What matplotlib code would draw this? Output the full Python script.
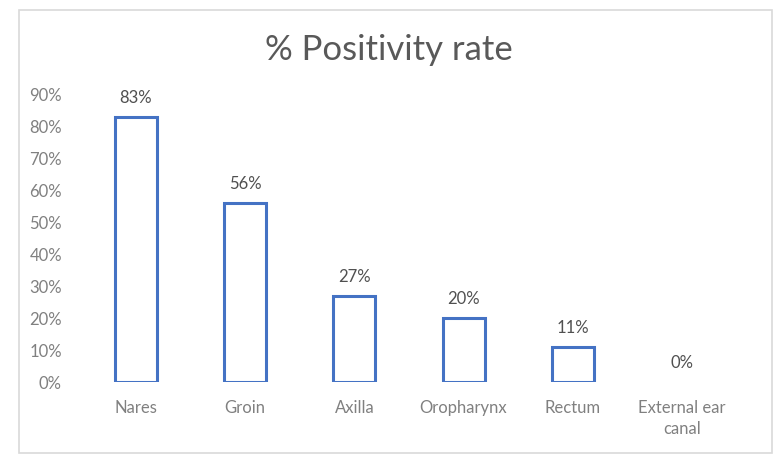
import numpy as np
import matplotlib.pyplot as plt
from matplotlib.patches import Rectangle

sites = ["Nares", "Groin", "Axilla", "Oropharynx", "Rectum", "External ear\ncanal"]
rates = [0.83, 0.56, 0.27, 0.20, 0.11, 0.0]
yticks = [0.0, 0.1, 0.2, 0.3, 0.4, 0.5, 0.6, 0.7, 0.8, 0.9]

plt.rcParams['font.family'] = ['Lato', 'DejaVu Sans']

fig = plt.figure(figsize=(7.77, 4.69), dpi=100)
ax = fig.add_axes([0.1048, 0.1855, 0.843, 0.612])

x = np.arange(len(sites))
edges = ["#4472C4" if r > 0 else "none" for r in rates]
ax.bar(x, rates, width=0.385, facecolor="white", edgecolor=edges, linewidth=2.2)

for xi, r in zip(x, rates):
    ax.annotate(f"{r * 100:.0f}%", (xi, r), xytext=(0, 8), textcoords="offset points",
                ha="center", va="bottom", fontsize=12, color="#505050")

ax.set_xlim(-0.5, len(sites) - 0.5)
ax.set_ylim(0, 0.9)
ax.set_yticks(yticks)
ax.set_yticklabels([f"{t * 100:.0f}%" for t in yticks])
ax.set_xticks(x)
ax.set_xticklabels(sites, linespacing=1.4)
ax.tick_params(axis="y", length=0, pad=14, labelsize=12, labelcolor="#808080")
ax.tick_params(axis="x", length=0, pad=13, labelsize=12, labelcolor="#808080")
for s in ax.spines.values():
    s.set_visible(False)

fig.text(0.5, 0.893, "% Positivity rate", ha="center", va="center", fontsize=25, color="#595959")

fig.patches.append(Rectangle((19 / 777, 1 - 453 / 469), (772 - 19) / 777, (453 - 10) / 469,
                             transform=fig.transFigure, fill=False, edgecolor="#d9d9d9", linewidth=1.2))

fig.savefig("out.png", dpi=100)
